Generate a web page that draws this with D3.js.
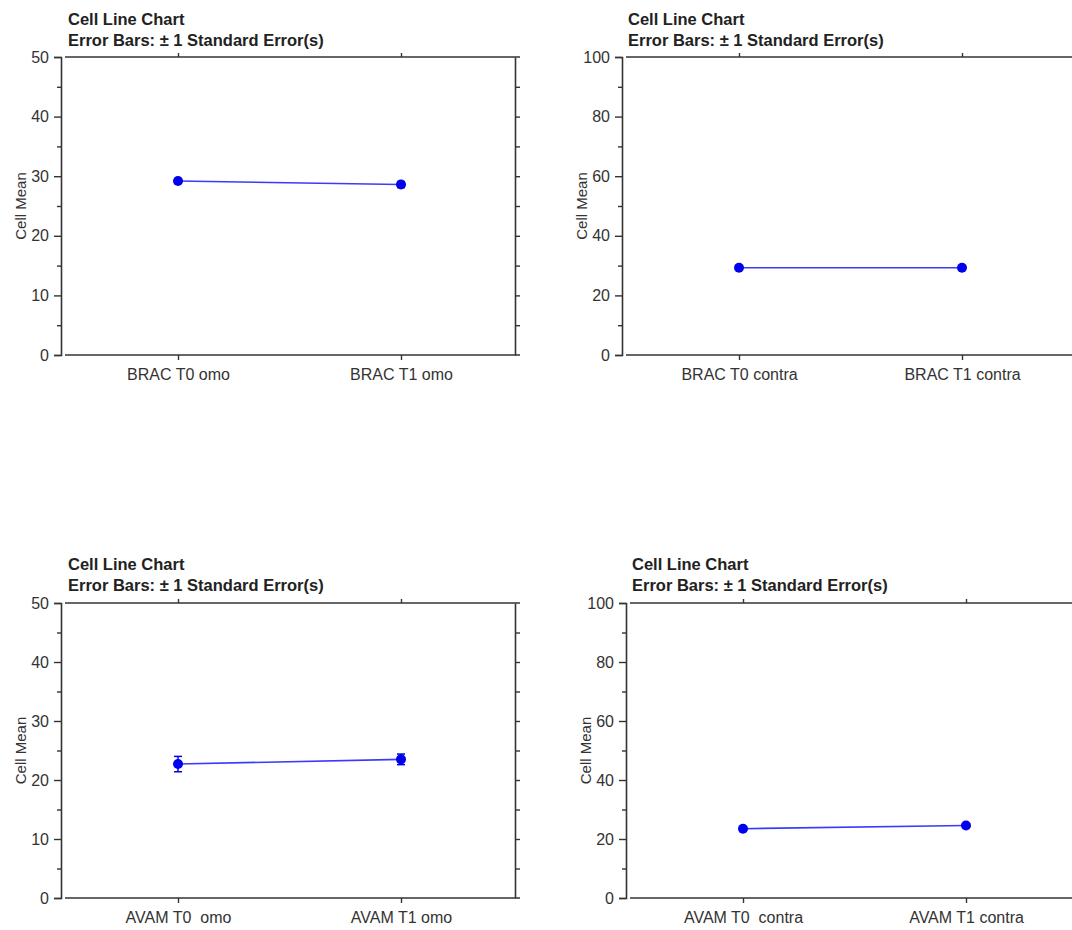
<!DOCTYPE html>
<html>
<head>
<meta charset="utf-8">
<script src="https://cdn.jsdelivr.net/npm/d3@7"></script>
<style>
  body { margin: 0; background: #fff; }
  svg { display: block; font-family: "Liberation Sans", Arial, sans-serif; }
  svg text { white-space: pre; }
</style>
</head>
<body>
<svg id="canvas" width="1072" height="930"></svg>
<script>
// values
let catsBracOmo = ["BRAC T0 omo", "BRAC T1 omo"];
let meansBracOmo = [29.2, 28.6];
let seBracOmo = [0.4, 0.5];

let catsBracContra = ["BRAC T0 contra", "BRAC T1 contra"];
let meansBracContra = [29.3, 29.3];
let seBracContra = [0.4, 0.4];

let catsAvamOmo = ["AVAM T0  omo", "AVAM T1 omo"];
let meansAvamOmo = [22.7, 23.5];
let seAvamOmo = [1.3, 0.9];

let catsAvamContra = ["AVAM T0  contra", "AVAM T1 contra"];
let meansAvamContra = [23.5, 24.6];
let seAvamContra = [0.5, 0.5];

let yMaxSmall = 50;
let yMaxLarge = 100;

let titleLine1 = "Cell Line Chart";
let titleLine2 = "Error Bars: \u00b1 1 Standard Error(s)";
let yTitle = "Cell Mean";

let svg = d3.select("#canvas");
let axisColor = "#333";

let panels = [
  { left: 61, top: 57, bottom: 355, titleX: 68, titleY: 25, cats: catsBracOmo, means: meansBracOmo, se: seBracOmo, yMax: yMaxSmall },
  { left: 622, top: 57, bottom: 355, titleX: 628, titleY: 25, cats: catsBracContra, means: meansBracContra, se: seBracContra, yMax: yMaxLarge },
  { left: 61, top: 603, bottom: 898, titleX: 68, titleY: 570, cats: catsAvamOmo, means: meansAvamOmo, se: seAvamOmo, yMax: yMaxSmall },
  { left: 626, top: 603, bottom: 898, titleX: 632, titleY: 570, cats: catsAvamContra, means: meansAvamContra, se: seAvamContra, yMax: yMaxLarge }
];

let plotWidth = 454;

let drawPanel = (p) => {
  let right = p.left + plotWidth;
  let g = svg.append("g");

  let x = d3.scalePoint().domain(p.cats).range([p.left + 117, p.left + 340]);
  let y = d3.scaleLinear().domain([0, p.yMax]).range([p.bottom, p.top]);
  let step = p.yMax / 5;

  // titles
  g.append("text").attr("x", p.titleX).attr("y", p.titleY)
    .attr("font-size", 16.5).attr("font-weight", "bold").attr("fill", "#222")
    .text(titleLine1);
  g.append("text").attr("x", p.titleX).attr("y", p.titleY + 21)
    .attr("font-size", 16.5).attr("font-weight", "bold").attr("fill", "#222")
    .text(titleLine2);

  // left axis, major ticks with labels
  let leftAxis = g.append("g").attr("transform", `translate(${p.left},0)`)
    .call(d3.axisLeft(y).tickValues(d3.range(0, p.yMax + 1, step)).tickSize(7).tickPadding(5));
  leftAxis.select(".domain").attr("stroke", axisColor).attr("stroke-width", 1.6);
  leftAxis.selectAll(".tick line").attr("stroke", axisColor).attr("stroke-width", 1.4);
  leftAxis.selectAll(".tick text").attr("font-size", 16).attr("fill", "#333")
    .attr("font-family", "Liberation Sans, Arial, sans-serif");

  // left minor ticks
  g.append("g").attr("transform", `translate(${p.left},0)`)
    .call(d3.axisLeft(y).tickValues(d3.range(step / 2, p.yMax, step)).tickSize(4).tickFormat(""))
    .call(a => a.select(".domain").remove())
    .selectAll(".tick line").attr("stroke", axisColor).attr("stroke-width", 1.4);

  // right border with outward ticks
  let rightAxis = g.append("g").attr("transform", `translate(${right},0)`)
    .call(d3.axisRight(y).tickValues(d3.range(step / 2, p.yMax, step / 2)).tickSize(5).tickSizeOuter(0).tickFormat(""));
  rightAxis.select(".domain").attr("stroke", axisColor).attr("stroke-width", 1.6);
  rightAxis.selectAll(".tick line").attr("stroke", axisColor).attr("stroke-width", 1.4);

  // bottom axis
  let bottomAxis = g.append("g").attr("transform", `translate(0,${p.bottom})`)
    .call(d3.axisBottom(x).tickSize(5).tickSizeOuter(0));
  bottomAxis.select(".domain").remove();
  bottomAxis.selectAll(".tick line").attr("stroke", axisColor).attr("stroke-width", 1.4);
  bottomAxis.selectAll(".tick text").attr("font-size", 16).attr("fill", "#333")
    .attr("y", 25).attr("dy", 0)
    .attr("font-family", "Liberation Sans, Arial, sans-serif");
  g.append("line").attr("x1", p.left + 4).attr("x2", right + 5)
    .attr("y1", p.bottom).attr("y2", p.bottom)
    .attr("stroke", axisColor).attr("stroke-width", 1.6);

  // top border with outward ticks
  let topAxis = g.append("g").attr("transform", `translate(0,${p.top})`)
    .call(d3.axisTop(x).tickSize(4).tickSizeOuter(0).tickFormat(""));
  topAxis.select(".domain").remove();
  topAxis.selectAll(".tick line").attr("stroke", axisColor).attr("stroke-width", 1.4);
  g.append("line").attr("x1", p.left + 4).attr("x2", right + 5)
    .attr("y1", p.top).attr("y2", p.top)
    .attr("stroke", axisColor).attr("stroke-width", 1.6);

  // y title
  g.append("text")
    .attr("transform", `translate(${p.left - 35},${(p.top + p.bottom) / 2}) rotate(-90)`)
    .attr("text-anchor", "middle").attr("font-size", 15).attr("fill", "#333")
    .text(yTitle);

  let rows = p.cats.map((c, i) => ({ cat: c, mean: p.means[i], se: p.se[i] }));

  // connecting line
  g.append("path").datum(rows)
    .attr("d", d3.line().x(d => x(d.cat)).y(d => y(d.mean)))
    .attr("fill", "none").attr("stroke", "#3a3aff").attr("stroke-width", 1.6);

  // error bars
  let eb = g.selectAll(".eb").data(rows).enter().append("g");
  eb.append("line")
    .attr("x1", d => x(d.cat)).attr("x2", d => x(d.cat))
    .attr("y1", d => y(d.mean - d.se)).attr("y2", d => y(d.mean + d.se))
    .attr("stroke", "#0000ee").attr("stroke-width", 1.5);
  eb.append("line")
    .attr("x1", d => x(d.cat) - 4).attr("x2", d => x(d.cat) + 4)
    .attr("y1", d => y(d.mean + d.se)).attr("y2", d => y(d.mean + d.se))
    .attr("stroke", "#0000ee").attr("stroke-width", 1.5);
  eb.append("line")
    .attr("x1", d => x(d.cat) - 4).attr("x2", d => x(d.cat) + 4)
    .attr("y1", d => y(d.mean - d.se)).attr("y2", d => y(d.mean - d.se))
    .attr("stroke", "#0000ee").attr("stroke-width", 1.5);

  // points
  g.selectAll(".pt").data(rows).enter().append("circle")
    .attr("cx", d => x(d.cat)).attr("cy", d => y(d.mean)).attr("r", 5)
    .attr("fill", "#0000ee");
};

panels.forEach(drawPanel);
</script>
</body>
</html>
